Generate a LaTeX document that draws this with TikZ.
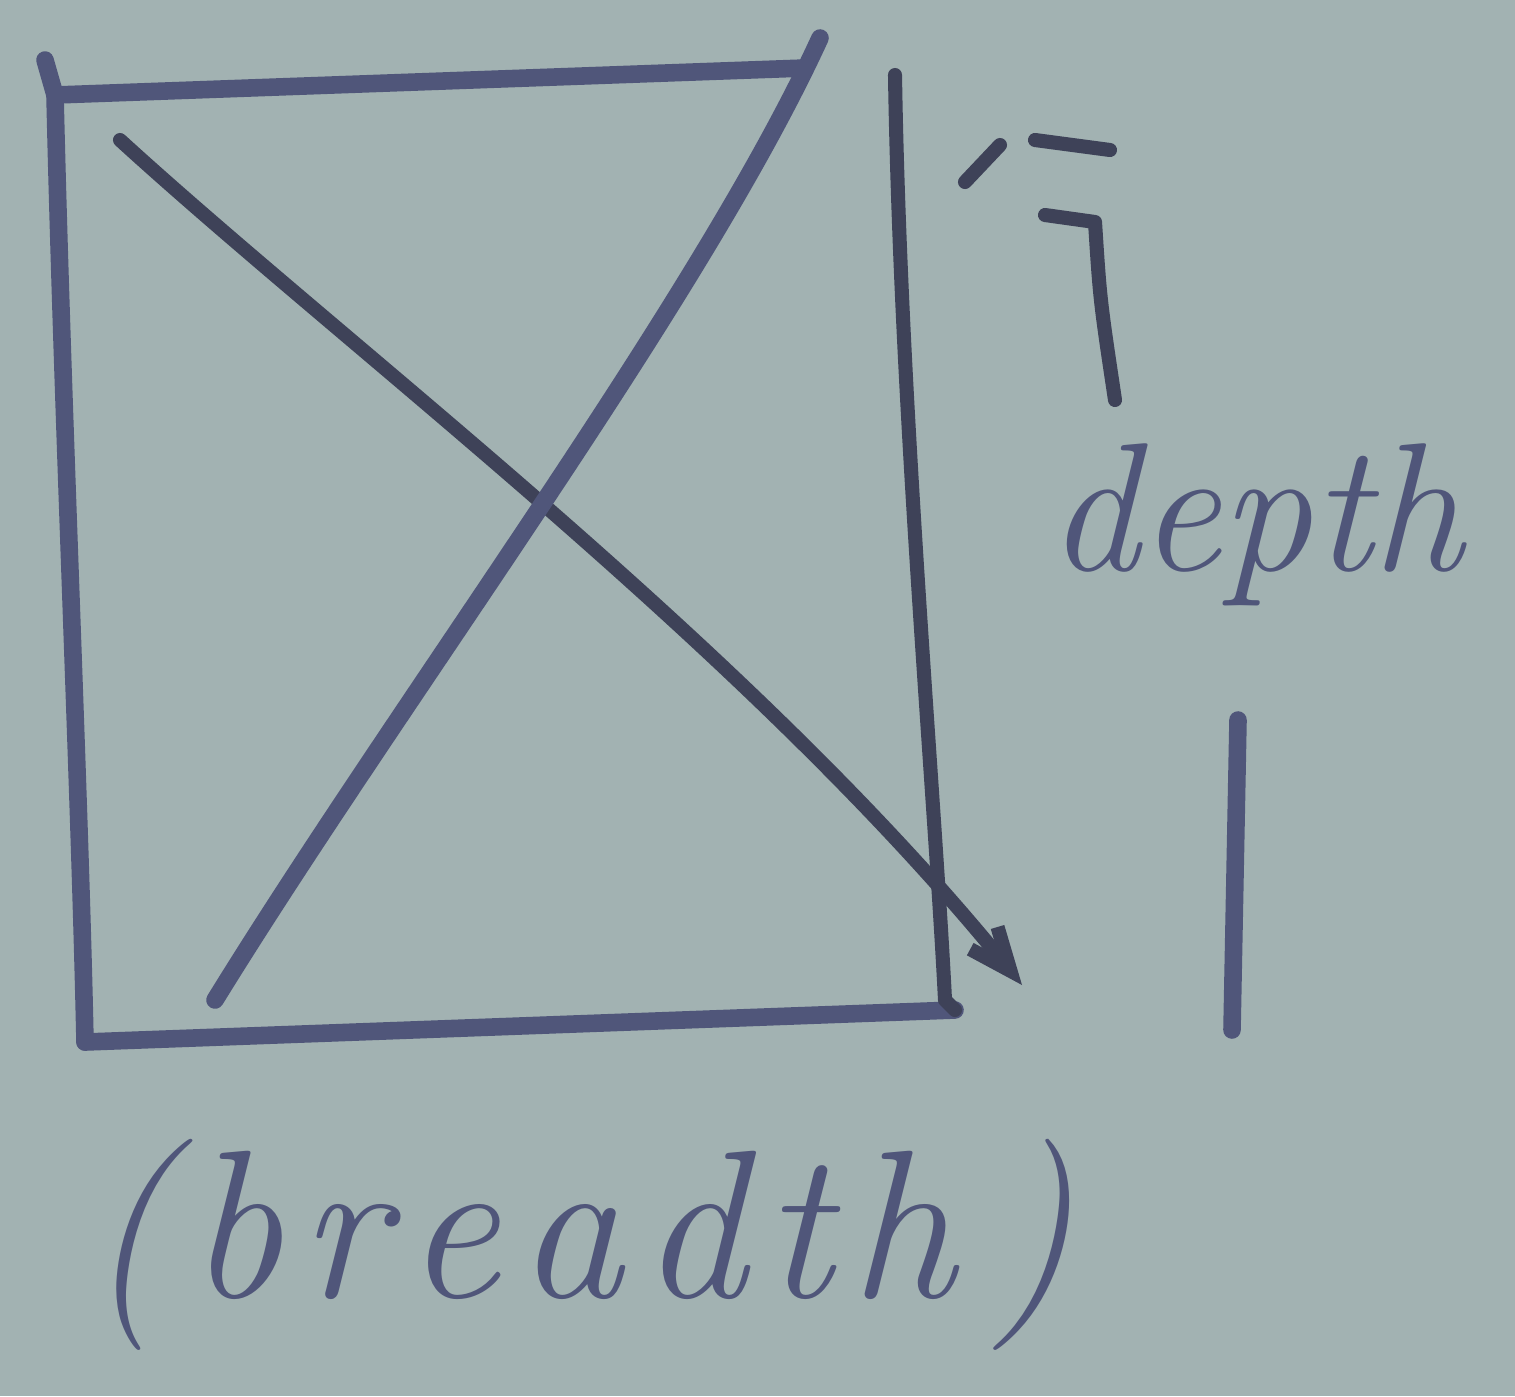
\documentclass[tikz,border=0pt]{standalone}
\usetikzlibrary{arrows.meta}
\definecolor{paper}{RGB}{162,178,178}
\definecolor{ink}{RGB}{80,86,122}
\definecolor{inkdark}{RGB}{62,66,88}
\tikzset{
  pen/.style={draw=ink, line width=5pt, line cap=round, line join=round},
  penthin/.style={draw=inkdark, line width=4pt, line cap=round, line join=round},
  handtext/.style={text=ink, inner sep=0pt, font=\fontsize{60}{70}\selectfont\itshape}
}
\newcommand{\lsp}{\kern5pt}
\begin{document}
\begin{tikzpicture}[x=0.01cm,y=-0.01cm]
\fill[paper] (0,0) rectangle (1515,1396);
\useasboundingbox (0,0) rectangle (1515,1396);
% corners
\coordinate (tl) at (55,95);
\coordinate (tr) at (805,68);
\coordinate (bl) at (85,1042);
\coordinate (br) at (955,1010);
\coordinate (rt) at (895,75);
\coordinate (d1s) at (120,140);
\coordinate (d1e) at (1022,985);
\coordinate (d2s) at (820,38);
\coordinate (d2e) at (215,1000);
% rectangle
\draw[pen] (45,60) -- (tl) -- (tr);
\draw[pen] (tl) .. controls (62,400) and (80,800) .. (bl);
\draw[pen] (bl) -- (br);
\draw[penthin] (rt) .. controls (900,400) and (935,800) .. (945,1000) -- (br);
% diagonals
\draw[penthin,-{Straight Barb[length=12pt,width=10pt]}] (d1s) .. controls (350,350) and (750,650) .. (d1e);
\draw[pen] (d2s) .. controls (700,300) and (400,700) .. (d2e);
% depth bracket
\coordinate (dt1) at (965,182);
\coordinate (dt2) at (1110,150);
\coordinate (dt3) at (1115,400);
\coordinate (db1) at (1238,720);
\coordinate (db2) at (1232,1030);
\draw[penthin] (dt1) -- (1000,145);
\draw[penthin] (1035,140) -- (dt2);
\draw[penthin] (1045,215) -- (1095,222) .. controls (1100,300) .. (dt3);
\draw[pen] (db1) -- (db2);
\node[handtext, font=\fontsize{52}{60}\selectfont\itshape] (depth) at (1255,525) {depth};
% breadth
\node[handtext] (breadth) at (580,1245) {(\lsp b\lsp r\lsp e\lsp a\lsp d\lsp t\lsp h\lsp\lsp )};
\end{tikzpicture}
\end{document}
